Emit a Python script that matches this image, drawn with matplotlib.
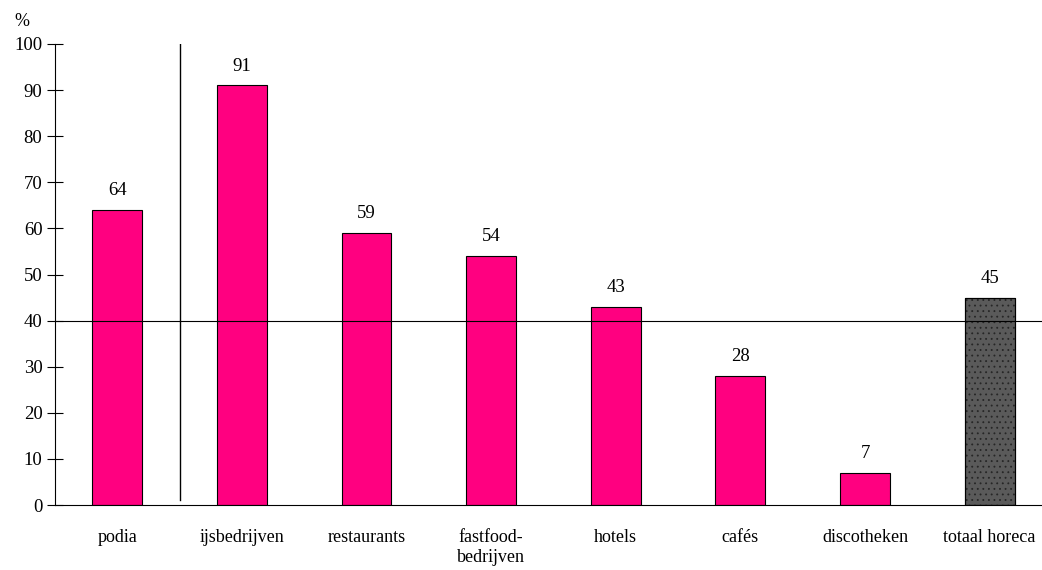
import matplotlib
matplotlib.use("Agg")
import matplotlib.pyplot as plt

categories = ["podia", "ijsbedrijven", "restaurants", "fastfood-\nbedrijven",
              "hotels", "cafés", "discotheken", "totaal horeca"]
values = [64, 91, 59, 54, 43, 28, 7, 45]
yticks = [0, 10, 20, 30, 40, 50, 60, 70, 80, 90, 100]
ref_line = 40

plt.rcParams['font.family'] = ['Liberation Serif', 'DejaVu Serif']
plt.rcParams['hatch.linewidth'] = 0.6

fig = plt.figure(figsize=(10.42, 5.70), dpi=100)
ax = fig.add_axes([55/1042, 1-505/570, 1-55/1042, (505-44)/570])

x = list(range(len(categories)))
colors = ['#FF0080'] * 7 + ['#5A5A5A']
ax.bar(x, values, width=0.4, color=colors, edgecolor='black', linewidth=0.8, zorder=2)
ax.bar([x[-1]], [values[-1]], width=0.4, facecolor='none', edgecolor='#262626',
       hatch='...', linewidth=0, zorder=3)
ax.bar([x[-1]], [values[-1]], width=0.4, facecolor='none', edgecolor='black',
       linewidth=0.8, zorder=4)

for xi, v in zip(x, values):
    ax.text(xi, v + 2.3, str(v), ha='center', va='bottom', fontsize=13.5)

ax.axhline(ref_line, color='black', linewidth=0.8, zorder=5)
ax.plot([0.5, 0.5], [1, 100], color='black', linewidth=1)

ax.set_xlim(-0.5, 7.42)
ax.set_ylim(0, 100)
ax.set_yticks(yticks)
ax.set_yticklabels([str(t) for t in yticks], fontsize=13.5)
ax.tick_params(axis='y', direction='inout', length=12, width=0.8, pad=3)
ax.set_xticks(x)
ax.set_xticklabels(categories, fontsize=13, va='top', linespacing=1.25)
ax.tick_params(axis='x', length=0, pad=17)

for s in ['top', 'right']:
    ax.spines[s].set_visible(False)
ax.spines['left'].set_linewidth(0.8)
ax.spines['bottom'].set_linewidth(0.8)

fig.text(14/1042, 1-22/570, '%', fontsize=13, ha='left', va='center')

fig.savefig('out.png', dpi=100)
